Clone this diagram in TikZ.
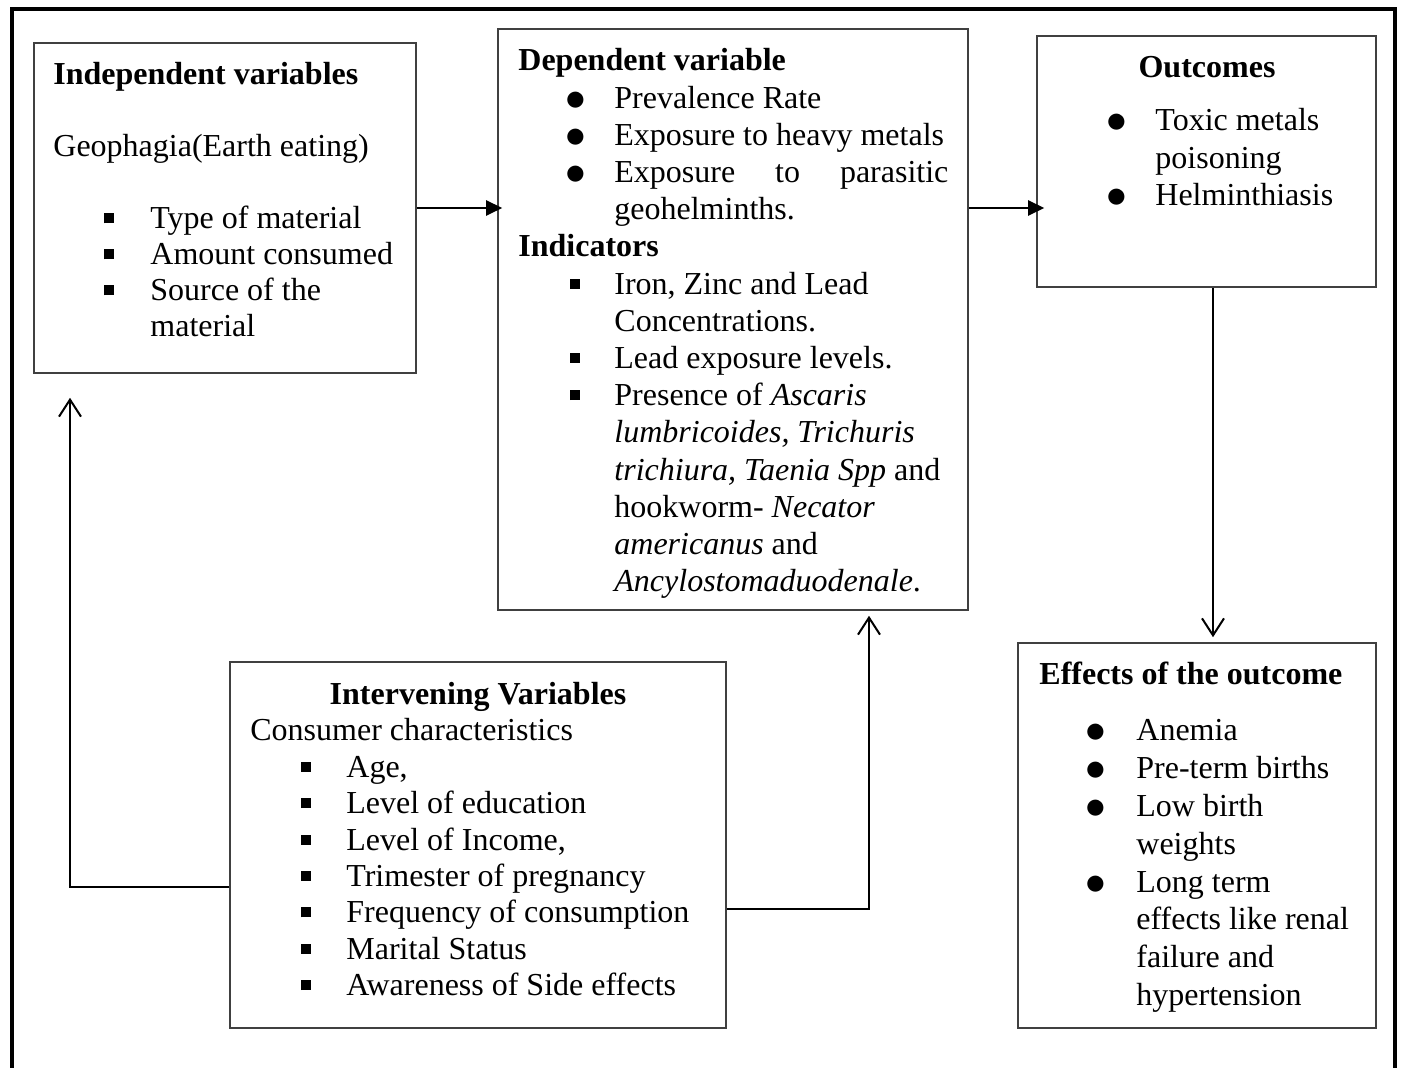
\documentclass[tikz,border=0pt]{standalone}
\usepackage{fontspec}
\setmainfont{Liberation Serif}
\usetikzlibrary{arrows.meta,fit}
\definecolor{boxgray}{RGB}{64,64,64}
% markers of the lists
\newcommand{\sqmark}{\rule[2.8pt]{5pt}{5pt}}
\newcommand{\rdmark}{\smash{\raisebox{-1pt}{\scalebox{1.2}{$\bullet$}}}}
% one list line: indent, width of the marker box, text
\newcommand{\sqline}[3]{\hspace*{#1}\makebox[#2][l]{\sqmark}#3}
\newcommand{\rdline}[3]{\hspace*{#1}\makebox[#2][l]{\rdmark}#3}
% a block of lines with its own line spacing
\newcommand{\blockof}[2]{\parbox[t]{240pt}{\fontsize{16}{#1}\selectfont #2}}
\tikzset{
    box/.style={draw=boxgray, line width=0.8pt, inner sep=0pt},
    txt/.style={anchor=base west, inner sep=0pt, font=\fontsize{16}{18}\selectfont},
    frame/.style={line width=2.3pt},
    fatarrow/.style={line width=1.2pt, -{Triangle[length=8pt,width=7.5pt]}},
    openarrow/.style={line width=1pt, -{Straight Barb[length=8.5pt,width=11pt]}}
}
\begin{document}
\begin{tikzpicture}[x=0.5pt,y=-0.5pt]
\useasboundingbox (0,0) rectangle (1403,1068);

%Outer frame, open at the bottom
\draw[frame] (12,1068) -- (12,9) -- (1395,9) -- (1395,1068);

%Shape: Rectangles
\node[box, fit={(34,43) (416,373)}] (indbox) {};
\node[box, fit={(498,29) (968,610)}] (depbox) {};
\node[box, fit={(1037,36) (1376,287)}] (outbox) {};
\node[box, fit={(1018,643) (1376,1028)}] (effbox) {};
\node[box, fit={(230,662) (726,1028)}] (intbox) {};

% Text Node
\node[txt] (indtext) at (53,85) {\blockof{18pt}{\textbf{Independent variables}\\[18pt]
Geophagia(Earth eating)\\[18pt]
\sqline{25.2pt}{23.3pt}{Type of material}\\
\sqline{25.2pt}{23.3pt}{Amount consumed}\\
\sqline{25.2pt}{23.3pt}{Source of the}\\
\hspace*{48.5pt}material}};
% Text Node
\node[txt] (deptext) at (518,71) {\blockof{18.6pt}{\textbf{Dependent variable}\\
\rdline{23.4pt}{24.6pt}{Prevalence Rate}\\
\rdline{23.4pt}{24.6pt}{Exposure to heavy metals}\\
\rdline{23.4pt}{24.6pt}{\makebox[167pt][s]{Exposure to parasitic}}\\
\hspace*{48pt}geohelminths.\\
\textbf{Indicators}\\
\sqline{26pt}{22pt}{Iron, Zinc and Lead}\\
\hspace*{48pt}Concentrations.\\
\sqline{26pt}{22pt}{Lead exposure levels.}\\
\sqline{26pt}{22pt}{Presence of \textit{Ascaris}}\\
\hspace*{48pt}\textit{lumbricoides, Trichuris}\\
\hspace*{48pt}\textit{trichiura, Taenia Spp} and\\
\hspace*{48pt}hookworm- \textit{Necator}\\
\hspace*{48pt}\textit{americanus} and\\
\hspace*{48pt}\textit{Ancylostomaduodenale}.}};
% Text Node
\node[txt, anchor=base] (outtitle) at (1207,78) {\textbf{Outcomes}};
\node[txt] (outtext) at (1106,131) {\blockof{18.75pt}{\rdline{0pt}{24.5pt}{Toxic metals}\\
\hspace*{24.5pt}poisoning\\
\rdline{0pt}{24.5pt}{Helminthiasis}}};
% Text Node
\node[txt] (efftext) at (1039,685) {\blockof{18.9pt}{\textbf{Effects of the outcome}\\[9.1pt]
\rdline{23pt}{25.5pt}{Anemia}\\
\rdline{23pt}{25.5pt}{Pre-term births}\\
\rdline{23pt}{25.5pt}{Low birth}\\
\hspace*{48.5pt}weights\\
\rdline{23pt}{25.5pt}{Long term}\\
\hspace*{48.5pt}effects like renal\\
\hspace*{48.5pt}failure and\\
\hspace*{48.5pt}hypertension}};
% Text Node
\node[txt, anchor=base] (inttitle) at (478,705) {\textbf{Intervening Variables}};
\node[txt] (inttext) at (250,741) {\blockof{18.2pt}{Consumer characteristics\\
\sqline{25.3pt}{22.7pt}{Age,}\\
\sqline{25.3pt}{22.7pt}{Level of education}\\
\sqline{25.3pt}{22.7pt}{Level of Income,}\\
\sqline{25.3pt}{22.7pt}{Trimester of pregnancy}\\
\sqline{25.3pt}{22.7pt}{Frequency of consumption}\\
\sqline{25.3pt}{22.7pt}{Marital Status}\\
\sqline{25.3pt}{22.7pt}{Awareness of Side effects}}};

%Straight Lines
\draw[fatarrow, shorten >=-2.5pt] (indbox.east) -- (indbox.east -| depbox.west);
\draw[fatarrow, shorten >=-4pt] (depbox.east |- indbox.east) -- (outbox.west |- indbox.east);
\draw[openarrow, shorten >=2.5pt] ([xshift=3.25pt]outbox.south) -- ([xshift=3.25pt]outbox.south |- effbox.north);
%Elbow Lines
\coordinate (lbend) at (70,887);
\coordinate (rbend) at (869,909);
\draw[openarrow, shorten >=12pt] (intbox.west |- lbend) -- (lbend) -- (lbend |- indbox.south);
\draw[openarrow, shorten >=2.5pt] (intbox.east |- rbend) -- (rbend) -- (rbend |- depbox.south);

\end{tikzpicture}
\end{document}
